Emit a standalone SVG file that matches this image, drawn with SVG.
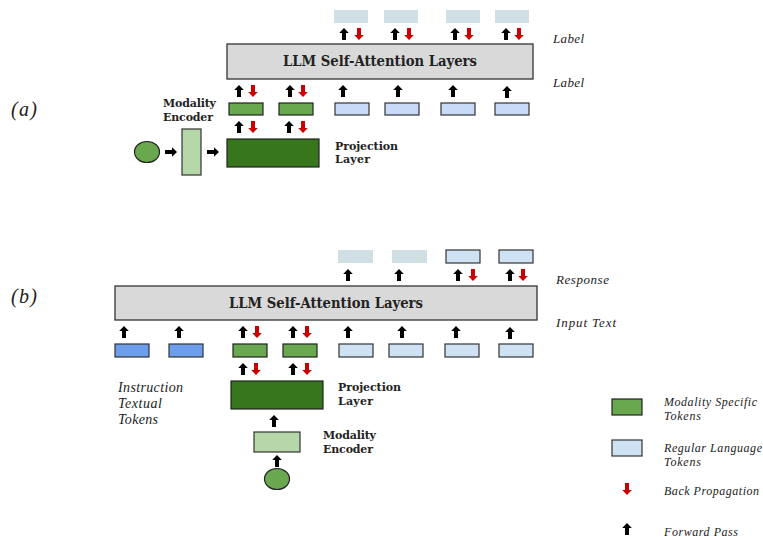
<svg xmlns="http://www.w3.org/2000/svg" xmlns:xlink="http://www.w3.org/1999/xlink" width="763" height="540" viewBox="0 0 763 540">
<style>
.llm{fill:#d9d9d9;stroke:#333;stroke-width:1.3}
.tokg{fill:#6aa84f;stroke:#222;stroke-width:1.2}
.tokl{fill:#c9daf8;stroke:#333;stroke-width:1.2}
.tokb{fill:#6d9eeb;stroke:#333;stroke-width:1.2}
.lab{fill:#d0dfe3}
.proj{fill:#38761d;stroke:#222;stroke-width:1.2}
.enc{fill:#b6d7a8;stroke:#333;stroke-width:1.2}
.inp{fill:#6aa84f;stroke:#222;stroke-width:1.2}
.t-title{font-family:"DejaVu Serif","Liberation Serif",serif;font-weight:bold;font-size:14px;fill:#222}
.t-bold{font-family:"DejaVu Serif","Liberation Serif",serif;font-weight:bold;font-size:11px;fill:#222}
.t-it{font-family:"Liberation Serif","DejaVu Serif",serif;font-style:italic;font-size:13px;fill:#222}
.t-it2{font-family:"Liberation Serif","DejaVu Serif",serif;font-style:italic;font-size:14px;fill:#222}
.t-leg{font-family:"Liberation Serif","DejaVu Serif",serif;font-style:italic;font-size:12px;fill:#222}
.t-part{font-family:"Liberation Serif","DejaVu Serif",serif;font-style:italic;font-size:20px;fill:#222}
</style>
<defs>
<path id="up" d="M-2,12 V5 H-4.8 L0,0 L4.8,5 H2 V12 Z" fill="#000"/>
<path id="dn" d="M-2,0 V7 H-4.8 L0,12 L4.8,7 H2 V0 Z" fill="#cc0000"/>
<path id="rt" d="M0,-2 H7 V-4.8 L12,0 L7,4.8 V2 H0 Z" fill="#000"/>
</defs>

<!-- Part (a) -->
<text class="t-part" x="11" y="116" textLength="26">(a)</text>

<g id="a-labels">
<rect class="lab" x="334" y="10" width="34" height="13"/>
<rect class="lab" x="384" y="10" width="34" height="13"/>
<rect class="lab" x="446" y="10" width="34" height="13"/>
<rect class="lab" x="495" y="10" width="34" height="13"/>
</g>
<g id="a-llm">
<rect class="llm" x="227" y="44" width="306" height="35"/>
<text class="t-title" x="380" y="66" text-anchor="middle" textLength="194" lengthAdjust="spacingAndGlyphs">LLM Self-Attention Layers</text>
</g>
<text class="t-it" x="553" y="43" textLength="31">Label</text>
<text class="t-it" x="553" y="87" textLength="31">Label</text>

<g id="a-tokens">
<rect class="tokg" x="229" y="103" width="34" height="12"/>
<rect class="tokg" x="279" y="103" width="34" height="12"/>
<rect class="tokl" x="335" y="103" width="34" height="12"/>
<rect class="tokl" x="385" y="103" width="34" height="12"/>
<rect class="tokl" x="441" y="103" width="34" height="12"/>
<rect class="tokl" x="495" y="103" width="34" height="12"/>
</g>
<g id="a-proj">
<rect class="proj" x="227" y="139" width="92" height="28"/>
<text class="t-bold" x="335" y="150" textLength="63">Projection</text>
<text class="t-bold" x="335" y="163" textLength="35">Layer</text>
</g>
<g id="a-enc">
<rect class="enc" x="182" y="129" width="19" height="46"/>
<text class="t-bold" x="163" y="107" textLength="53">Modality</text>
<text class="t-bold" x="163" y="121" textLength="50">Encoder</text>
</g>
<g id="a-input">
<ellipse class="inp" cx="147" cy="152" rx="12.5" ry="10.5"/>
</g>

<g id="a-connectors">
<use href="#up" x="344" y="28"/><use href="#dn" x="359" y="28"/>
<use href="#up" x="395" y="28"/><use href="#dn" x="409" y="28"/>
<use href="#up" x="455" y="28"/><use href="#dn" x="469" y="28"/>
<use href="#up" x="506" y="28"/><use href="#dn" x="519" y="28"/>
<use href="#up" x="239" y="85"/><use href="#dn" x="253" y="85"/>
<use href="#up" x="290" y="85"/><use href="#dn" x="303" y="85"/>
<use href="#up" x="343" y="85"/>
<use href="#up" x="398" y="85"/>
<use href="#up" x="453" y="85"/>
<use href="#up" x="507" y="86"/>
<use href="#up" x="239" y="121"/><use href="#dn" x="253" y="121"/>
<use href="#up" x="289" y="121"/><use href="#dn" x="303" y="121"/>
<use href="#rt" x="165" y="152"/>
<use href="#rt" x="207" y="152"/>
</g>

<!-- Part (b) -->
<text class="t-part" x="11" y="303" textLength="26">(b)</text>

<g id="b-response">
<rect class="lab" x="338" y="250" width="35" height="13"/>
<rect class="lab" x="392" y="250" width="35" height="13"/>
<rect class="tokl" x="446" y="250" width="34" height="13" style="fill:#cfe2f3"/>
<rect class="tokl" x="499" y="250" width="34" height="13" style="fill:#cfe2f3"/>
</g>
<g id="b-llm">
<rect class="llm" x="115" y="286" width="422" height="34"/>
<text class="t-title" x="326" y="308" text-anchor="middle" textLength="194" lengthAdjust="spacingAndGlyphs">LLM Self-Attention Layers</text>
</g>
<text class="t-it" x="556" y="284" textLength="53">Response</text>
<text class="t-it" x="556" y="327" textLength="60">Input Text</text>

<g id="b-tokens">
<rect class="tokb" x="115" y="344" width="34" height="13"/>
<rect class="tokb" x="169" y="344" width="34" height="13"/>
<rect class="tokg" x="233" y="344" width="34" height="13"/>
<rect class="tokg" x="283" y="344" width="34" height="13"/>
<rect class="tokl" x="339" y="344" width="34" height="13" style="fill:#cfe2f3"/>
<rect class="tokl" x="389" y="344" width="34" height="13" style="fill:#cfe2f3"/>
<rect class="tokl" x="445" y="344" width="34" height="13" style="fill:#cfe2f3"/>
<rect class="tokl" x="499" y="344" width="34" height="13" style="fill:#cfe2f3"/>
</g>
<g id="b-instr">
<text class="t-it2" x="118" y="392" textLength="65">Instruction</text>
<text class="t-it2" x="118" y="408" textLength="44">Textual</text>
<text class="t-it2" x="118" y="424" textLength="40">Tokens</text>
</g>
<g id="b-proj">
<rect class="proj" x="231" y="381" width="92" height="28"/>
<text class="t-bold" x="338" y="391" textLength="63">Projection</text>
<text class="t-bold" x="338" y="405" textLength="35">Layer</text>
</g>
<g id="b-enc">
<rect class="enc" x="254" y="432" width="46" height="20"/>
<text class="t-bold" x="323" y="439" textLength="53">Modality</text>
<text class="t-bold" x="323" y="453" textLength="50">Encoder</text>
</g>
<g id="b-input">
<ellipse class="inp" cx="277" cy="479" rx="12.5" ry="10.5"/>
</g>

<g id="b-connectors">
<use href="#up" x="348" y="269"/>
<use href="#up" x="399" y="269"/>
<use href="#up" x="458" y="269"/><use href="#dn" x="473" y="269"/>
<use href="#up" x="510" y="269"/><use href="#dn" x="523" y="269"/>
<use href="#up" x="124" y="326"/>
<use href="#up" x="179" y="326"/>
<use href="#up" x="243" y="326"/><use href="#dn" x="257" y="326"/>
<use href="#up" x="293" y="326"/><use href="#dn" x="307" y="326"/>
<use href="#up" x="348" y="326"/>
<use href="#up" x="402" y="326"/>
<use href="#up" x="456" y="326"/>
<use href="#up" x="510" y="327"/>
<use href="#up" x="243" y="363"/><use href="#dn" x="256" y="363"/>
<use href="#up" x="293" y="363"/><use href="#dn" x="307" y="363"/>
<use href="#up" x="274" y="415"/>
<use href="#up" x="277" y="455"/>
</g>

<!-- Legend -->
<g id="legend-modality">
<rect class="tokg" x="612" y="399" width="30" height="16"/>
<text class="t-leg" x="664" y="406" textLength="93">Modality Specific</text>
<text class="t-leg" x="664" y="420" textLength="37">Tokens</text>
</g>
<g id="legend-regular">
<rect class="tokl" x="612" y="440" width="30" height="16" style="fill:#cfe2f3"/>
<text class="t-leg" x="664" y="452" textLength="98">Regular Language</text>
<text class="t-leg" x="664" y="466" textLength="37">Tokens</text>
</g>
<g id="legend-back">
<use href="#dn" x="627" y="483"/>
<text class="t-leg" x="664" y="495" textLength="95">Back Propagation</text>
</g>
<g id="legend-forward">
<use href="#up" x="627" y="523"/>
<text class="t-leg" x="664" y="536" textLength="74">Forward Pass</text>
</g>
</svg>
